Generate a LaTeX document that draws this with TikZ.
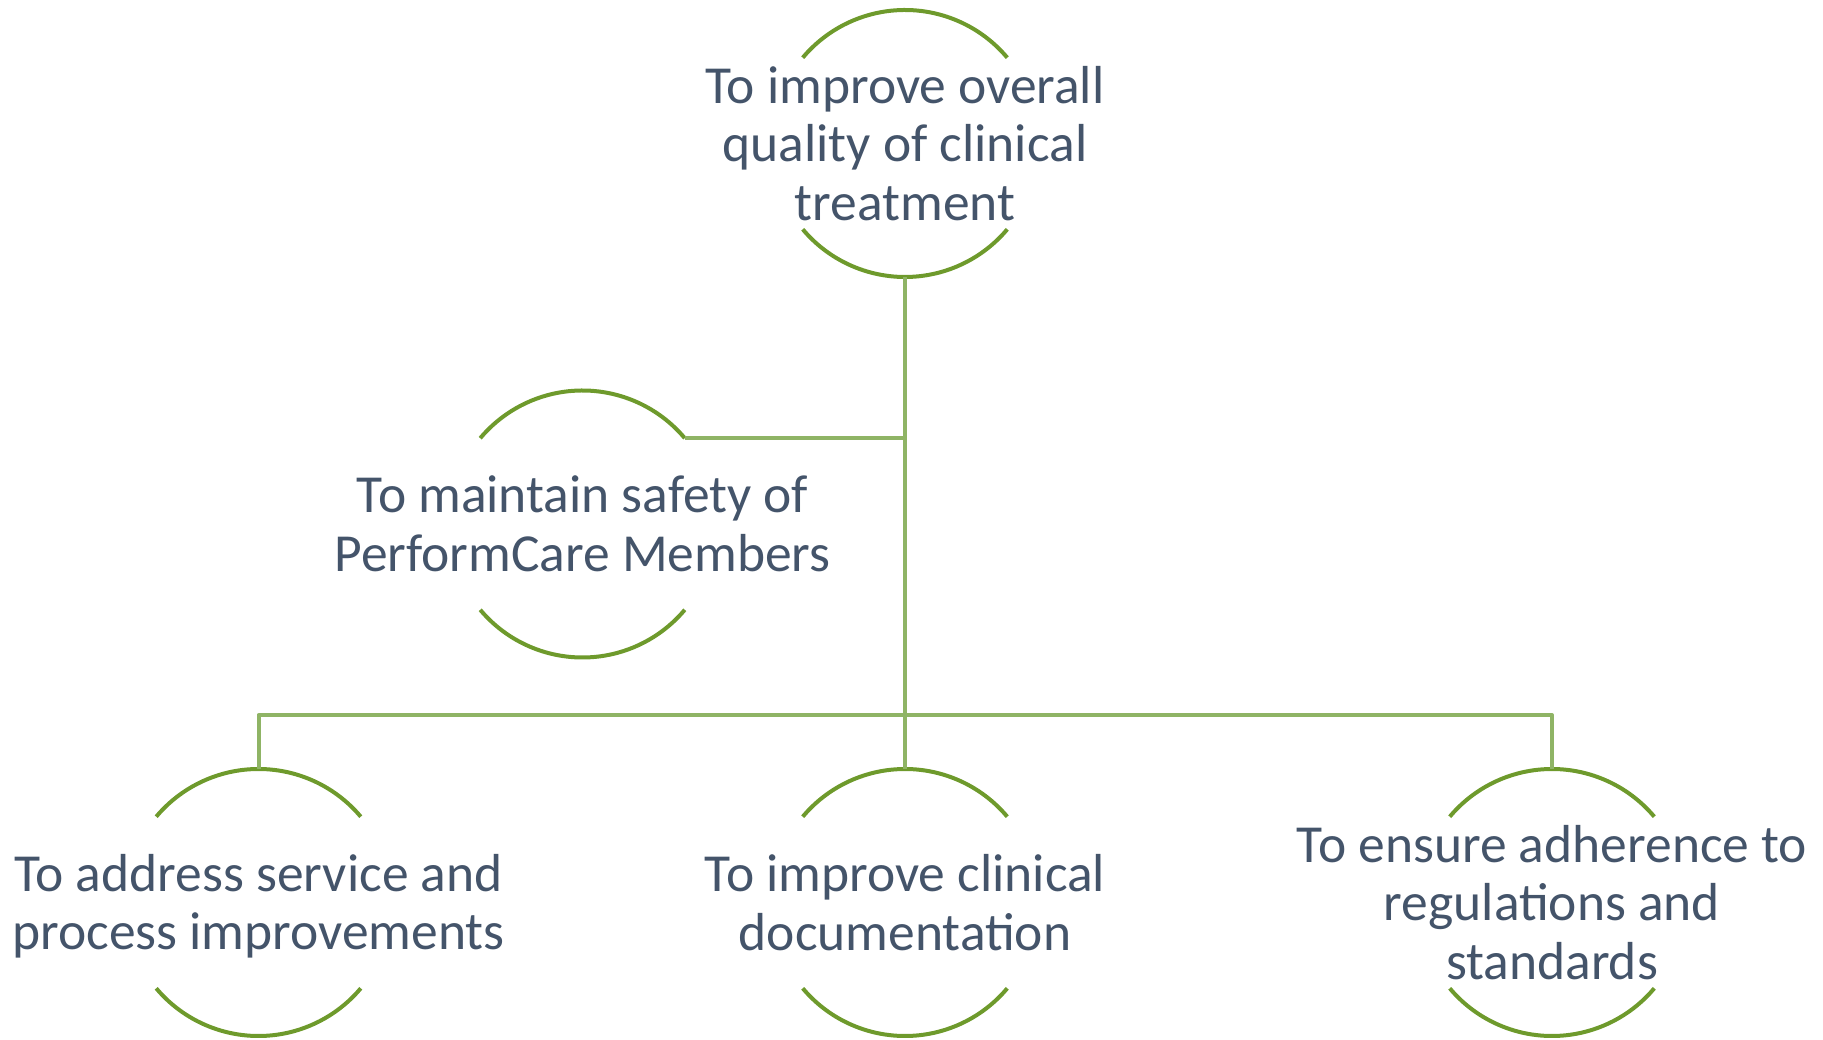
\documentclass[tikz,border=0pt]{standalone}
\usepackage{fontspec}
\setmainfont{Carlito}
\definecolor{ringgreen}{HTML}{6E9A2C}
\definecolor{linkgreen}{HTML}{8FB465}
\definecolor{slate}{HTML}{44546A}
\begin{document}
\begin{tikzpicture}[x=1pt,y=1pt,
  ring/.style={circle,minimum size=267pt,inner sep=0pt,outer sep=0pt},
  goal/.style={align=center,text=slate,inner sep=0pt,
    font=\fontsize{53.5}{58.5}\selectfont},
  arcline/.style={draw=ringgreen,line width=4pt},
  link/.style={draw=linkgreen,line width=4pt}]
\useasboundingbox (0,0) rectangle (1823,1039);

% goal circles
\node[ring] (top)    at (905,895.5) {};
\node[ring] (safety) at (582.5,515) {};
\node[ring] (serv)   at (258.5,136.5) {};
\node[ring] (docu)   at (905,136.5) {};
\node[ring] (regs)   at (1552,136.5) {};

% open rings: an upper and a lower arc around each goal
\foreach \n in {top,safety,serv,docu,regs}{
  \draw[arcline] (\n.40) arc[start angle=40,end angle=140,radius=133.5pt];
  \draw[arcline] (\n.220) arc[start angle=220,end angle=320,radius=133.5pt];
}

% goal texts
\node[goal] (ttop) at (top.center) {To improve overall\\quality of clinical\\treatment};
\node[goal] (tsafety) at (safety.center) {To maintain safety of\\PerformCare Members};
\node[goal] (tserv) at ([yshift=-3.5pt]serv.center) {To address service and\\process improvements};
\node[goal] (tdocu) at (docu.center) {To improve clinical\\documentation};
\node[goal] (tregs) at (regs.center) {To ensure adherence to\\regulations and\\standards};

% connectors
\coordinate (bus) at (905,324);
\draw[link] (top.south) -- (docu.north);
\draw[link] (safety.40) -- (safety.40 -| top.south);
\draw[link,line join=round] (serv.north) -- (serv.north |- bus) -- (regs.north |- bus) -- (regs.north);
\end{tikzpicture}
\end{document}
